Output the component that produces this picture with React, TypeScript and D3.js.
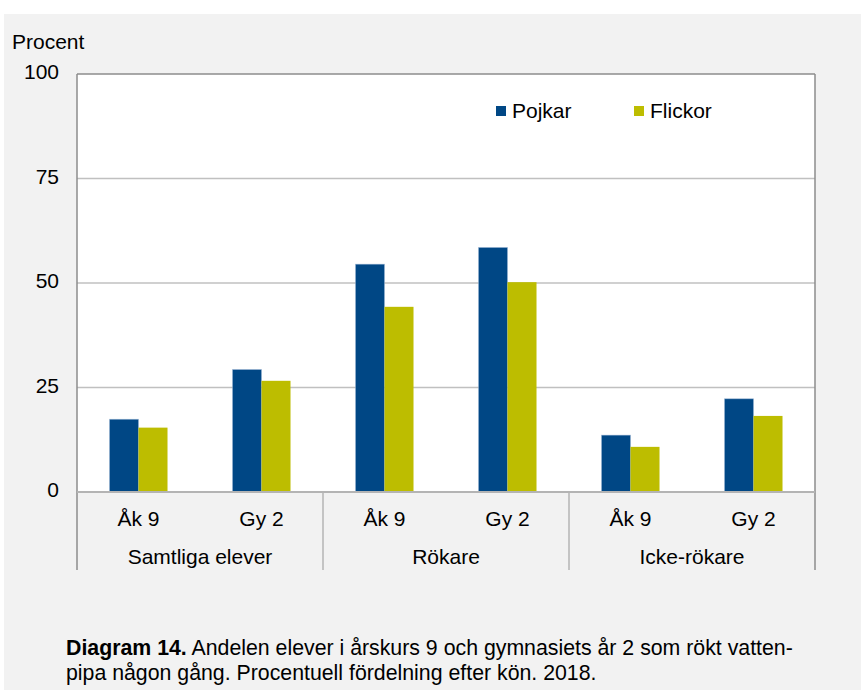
import React from "react";
import * as d3 from "d3";

const groups = ["Samtliga elever", "Rökare", "Icke-rökare"];
const categories = ["Åk 9", "Gy 2", "Åk 9", "Gy 2", "Åk 9", "Gy 2"];
const seriesNames = ["Pojkar", "Flickor"];
const pojkar = [17.4, 29.3, 54.5, 58.5, 13.6, 22.3];
const flickor = [15.4, 26.6, 44.3, 50.2, 10.8, 18.2];
const yTicks = [0, 25, 50, 75, 100];
const colors = ["#004785", "#BDBD00"];

export default function App() {
  const W = 861, H = 695;
  const left = 77, right = 815, top = 74, bottom = 492;
  const x = d3.scaleBand<number>().domain(d3.range(categories.length)).range([left, right]);
  const sub = d3.scaleBand<string>().domain(seriesNames).range([0, x.bandwidth()]).paddingInner(0).paddingOuter(1.12);
  const y = d3.scaleLinear().domain([0, 100]).range([bottom, top]);
  const series = [pojkar, flickor];
  const font = "'Liberation Sans', Arial, sans-serif";
  const fs = 21;
  const groupEdges = [0, 2, 4, 6].map((i) => (i < 6 ? x(i)! : right));

  return (
    <svg width={W} height={H} style={{ position: "absolute", left: 0, top: 0 }} fontFamily={font}>
      <rect x={0} y={0} width={W} height={H} fill="#ffffff" />
      <rect x={4} y={14} width={W - 4} height={676} fill="#f2f2f2" />
      <rect x={left} y={top} width={right - left} height={bottom - top} fill="#ffffff" />
      {yTicks.filter((t) => t > 0 && t < 100).map((t) => (
        <line key={t} x1={left} x2={right} y1={y(t)} y2={y(t)} stroke="#c0c0c0" strokeWidth={1.5} />
      ))}
      {series.map((vals, si) =>
        vals.map((v, i) => (
          <rect
            key={`${si}-${i}`}
            x={x(i)! + sub(seriesNames[si])!}
            y={y(v)}
            width={sub.bandwidth()}
            height={bottom - y(v)}
            fill={colors[si]}
            stroke="#9fb8d6"
            strokeOpacity={si === 0 ? 0.6 : 0}
            strokeWidth={0.8}
          />
        ))
      )}
      {/* frame */}
      <line x1={left} x2={right} y1={top} y2={top} stroke="#8c8c8c" strokeWidth={1.5} />
      <line x1={left} x2={left} y1={top} y2={570} stroke="#8c8c8c" strokeWidth={1.5} />
      <line x1={right} x2={right} y1={top} y2={570} stroke="#8c8c8c" strokeWidth={1.5} />
      <line x1={left} x2={right} y1={bottom} y2={bottom} stroke="#b4b4b4" strokeWidth={2} />
      {groupEdges.slice(1, 3).map((gx, i) => (
        <line key={i} x1={gx} x2={gx} y1={bottom} y2={570} stroke="#b4b4b4" strokeWidth={1.5} />
      ))}
      {/* y tick labels */}
      {yTicks.map((t) => (
        <text key={t} x={59} y={y(t) + 5} textAnchor="end" fontSize={fs} fill="#000">
          {t}
        </text>
      ))}
      <text x={12} y={49} fontSize={fs} fill="#000">Procent</text>
      {/* category labels */}
      {categories.map((c, i) => (
        <text key={i} x={x(i)! + x.bandwidth() / 2} y={526} textAnchor="middle" fontSize={fs} fill="#000">
          {c}
        </text>
      ))}
      {groups.map((g, i) => (
        <text key={g} x={(groupEdges[i] + groupEdges[i + 1]) / 2} y={564} textAnchor="middle" fontSize={fs} fill="#000">
          {g}
        </text>
      ))}
      {/* legend */}
      {seriesNames.map((s, i) => (
        <g key={s} transform={`translate(${496 + i * 138},106)`}>
          <rect x={0} y={0} width={10} height={10} fill={colors[i]} />
          <text x={16} y={11.5} fontSize={fs} fill="#000">{s}</text>
        </g>
      ))}
      {/* caption */}
      <text x={66} y={655} fontSize={21.3} fill="#000">
        <tspan fontWeight="bold">Diagram 14.</tspan>
        <tspan> Andelen elever i årskurs 9 och gymnasiets år 2 som rökt vatten-</tspan>
      </text>
      <text x={66} y={680} fontSize={21.3} fill="#000">
        pipa någon gång. Procentuell fördelning efter kön. 2018.
      </text>
    </svg>
  );
}
